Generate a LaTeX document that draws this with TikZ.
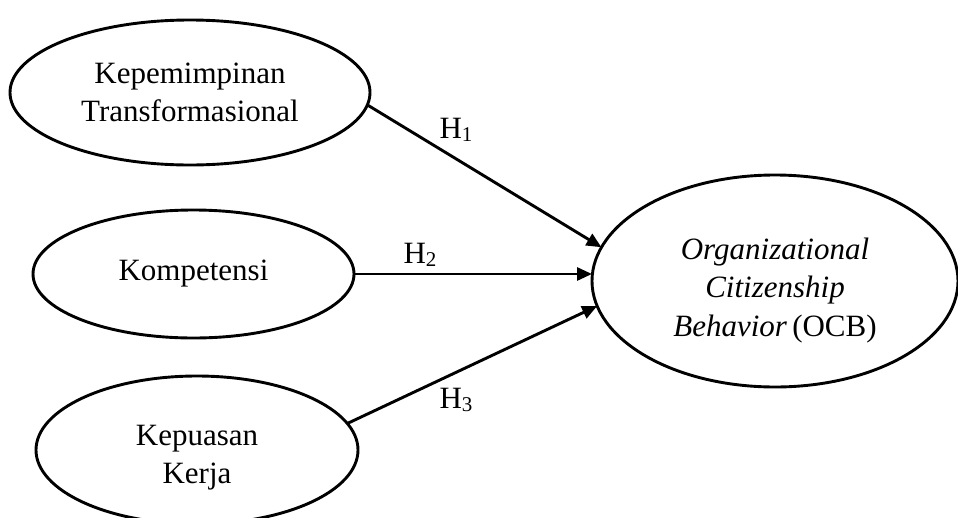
\documentclass[tikz,border=0pt]{standalone}
\usepackage{fontspec}
\setmainfont{Liberation Serif}
\usetikzlibrary{shapes.geometric,arrows.meta}
\tikzset{
  var/.style={draw, shape=ellipse, line width=2.9pt, inner sep=0pt, outer sep=0pt,
    align=center, font=\fontsize{31}{38.5}\selectfont},
  link/.style={line width=2.9pt, -{Triangle[length=15pt,width=13pt]}},
  hlab/.style={font=\fontsize{31}{31}\selectfont, inner sep=0pt}
}
\newcommand{\hsub}[1]{H\raisebox{-3pt}{\fontsize{21}{21}\selectfont #1}}
\newcommand{\tstrut}[1]{\rule{0pt}{#1}}
\begin{document}
\begin{tikzpicture}[x=1pt,y=-1pt]
\clip (0,0) rectangle (958,517);
\node[var, minimum width=360pt, minimum height=145pt] (e1) at (190,92.5) {Kepemimpinan\\Transformasional};
\node[var, minimum width=321pt, minimum height=128pt] (e2) at (193.5,274) {Kompetensi};
\node[var, minimum width=322pt, minimum height=148pt] (e3) at (197,450) {\tstrut{36pt}Kepuasan\\Kerja};
\node[var, minimum width=366pt, minimum height=212pt] (e4) at (775,281) {\tstrut{40pt}\textit{Organizational}\\\textit{Citizenship}\\\textit{Behavior}\,(OCB)};
\draw[link] (e1.-4) -- (e4.169.2);
\draw[link] (e2.east) -- (e2.east -| e4.west);
\draw[link] (e3.10.2) -- (e4.188.5);
\node[hlab] (h1) at (456,130) {\hsub{1}};
\node[hlab] (h2) at (420,255) {\hsub{2}};
\node[hlab] (h3) at (456,400) {\hsub{3}};
\end{tikzpicture}
\end{document}
